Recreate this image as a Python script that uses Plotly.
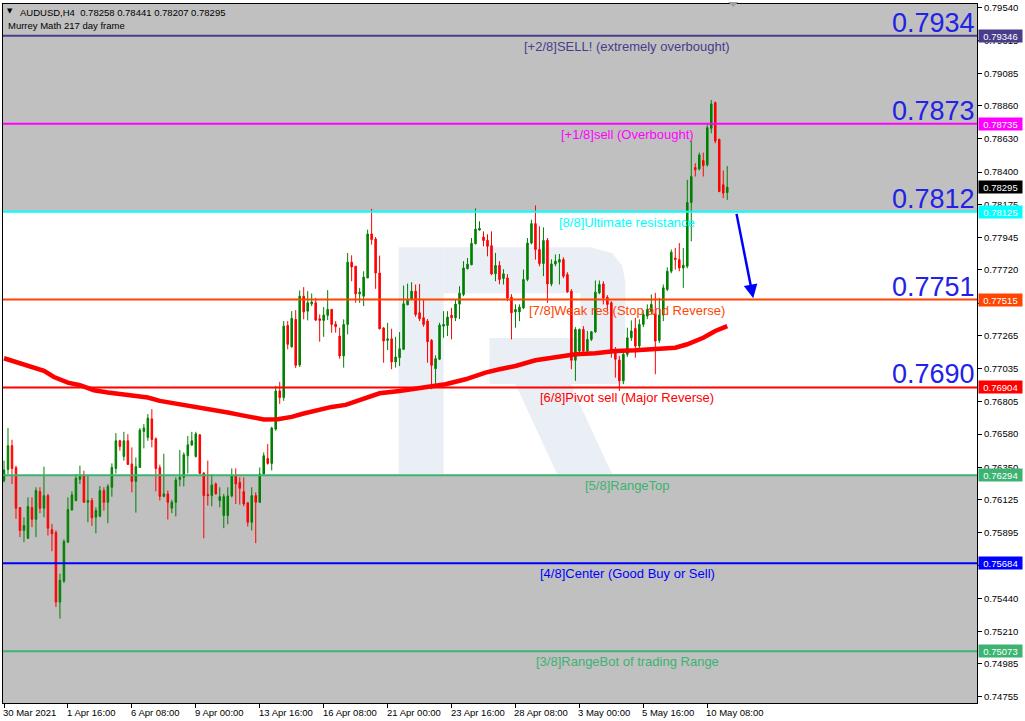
import plotly.graph_objects as go

# ---------------- data ----------------
opens = [0.76257,0.76335,0.76500,0.76347,0.76070,0.75911,0.75857,0.76070,0.75989,0.76181,
0.76066,0.76153,0.75916,0.75897,0.75414,0.75560,0.75830,0.76054,0.76119,0.76266,
0.76292,0.76107,0.76119,0.76003,0.76010,0.76188,0.76107,0.76211,0.76342,0.76534,
0.76425,0.76534,0.76373,0.76252,0.76349,0.76599,0.76557,0.76686,0.76548,0.76347,
0.76148,0.76165,0.76066,0.76107,0.76266,0.76280,0.76430,0.76504,0.76425,0.76575,
0.76310,0.76160,0.76153,0.76234,0.76119,0.76015,0.76015,0.76151,0.76292,0.76245,
0.76181,0.76103,0.75968,0.76153,0.76107,0.76303,0.76411,0.76377,0.76615,0.76880,
0.76834,0.77335,0.77187,0.77377,0.77060,0.77538,0.77434,0.77485,0.77492,0.77381,
0.77370,0.77405,0.77446,0.77344,0.77261,0.77123,0.77342,0.77774,0.77746,0.77554,
0.77538,0.77665,0.77970,0.77935,0.77699,0.77317,0.77231,0.77242,0.77081,0.77111,
0.77169,0.77478,0.77515,0.77573,0.77423,0.77388,0.77365,0.77231,0.77035,0.77100,
0.77330,0.77335,0.77405,0.77388,0.77483,0.77550,0.77729,0.77756,0.77902,0.77997,
0.77949,0.77926,0.77889,0.77693,0.77751,0.77661,0.77665,0.77531,0.77429,0.77429,
0.77457,0.77654,0.77907,0.78042,0.77862,0.77765,0.77926,0.77623,0.77762,0.77774,
0.77792,0.77688,0.77573,0.77093,0.77157,0.77307,0.77157,0.77238,0.77291,0.77561,
0.77623,0.77531,0.77492,0.77157,0.77095,0.76950,0.77134,0.77249,0.77314,0.77192,
0.77342,0.77400,0.77434,0.77416,0.77231,0.77407,0.77585,0.77711,0.77803,0.77792,
0.77734,0.77746,0.78189,0.78431,0.78422,0.78480,0.78450,0.78704,0.78882,0.78627,
0.78312,0.78258]
highs = [0.76396,0.76622,0.76541,0.76361,0.76072,0.76003,0.76141,0.76141,0.76211,0.76211,
0.76354,0.76165,0.75957,0.75911,0.75611,0.75849,0.76141,0.76183,0.76303,0.76361,
0.76326,0.76292,0.76137,0.76072,0.76220,0.76211,0.76234,0.76377,0.76587,0.76541,
0.76596,0.76580,0.76488,0.76418,0.76622,0.76650,0.76719,0.76754,0.76557,0.76368,
0.76444,0.76188,0.76124,0.76280,0.76470,0.76453,0.76567,0.76596,0.76596,0.76580,
0.76315,0.76396,0.76303,0.76245,0.76211,0.76165,0.76211,0.76342,0.76342,0.76280,
0.76280,0.76107,0.76211,0.76176,0.76349,0.76453,0.76511,0.76631,0.76915,0.76943,
0.77365,0.77365,0.77434,0.77441,0.77578,0.77601,0.77573,0.77557,0.77526,0.77411,
0.77462,0.77580,0.77450,0.77365,0.77319,0.77377,0.77838,0.77822,0.77746,0.77596,
0.77711,0.78000,0.78145,0.77949,0.77820,0.77323,0.77353,0.77312,0.77256,0.77289,
0.77612,0.77626,0.77635,0.77619,0.77623,0.77519,0.77379,0.77240,0.77127,0.77353,
0.77434,0.77434,0.77457,0.77517,0.77607,0.77781,0.77803,0.77942,0.78148,0.78058,
0.77988,0.77968,0.77988,0.77838,0.77781,0.77725,0.77691,0.77552,0.77481,0.77481,
0.77723,0.77942,0.78069,0.78168,0.78023,0.78016,0.77942,0.77794,0.77827,0.77831,
0.77808,0.77704,0.77587,0.77323,0.77314,0.77330,0.77296,0.77296,0.77647,0.77647,
0.77642,0.77545,0.77504,0.77185,0.77123,0.77157,0.77319,0.77370,0.77388,0.77377,
0.77441,0.77481,0.77550,0.77561,0.77526,0.77619,0.77739,0.77862,0.77873,0.77907,
0.77873,0.78346,0.78616,0.78461,0.78535,0.78535,0.78727,0.78900,0.78889,0.78632,
0.78411,0.78441]
lows = [0.76245,0.76303,0.76234,0.75992,0.75865,0.75830,0.75853,0.75934,0.75865,0.76031,
0.76003,0.75876,0.75767,0.75380,0.75299,0.75546,0.75826,0.76049,0.76114,0.76234,
0.76103,0.75968,0.75943,0.75892,0.76003,0.76049,0.75961,0.76146,0.76307,0.76465,
0.76396,0.76366,0.76176,0.76035,0.76345,0.76481,0.76534,0.76488,0.76183,0.76119,
0.76141,0.75987,0.76031,0.76008,0.76217,0.76217,0.76307,0.76500,0.76418,0.76303,
0.75857,0.76084,0.76079,0.76160,0.76072,0.75927,0.75954,0.76141,0.76095,0.76091,
0.76079,0.75938,0.75911,0.75823,0.76103,0.76296,0.76368,0.76328,0.76603,0.76790,
0.76811,0.77169,0.77180,0.77040,0.77046,0.77377,0.77370,0.77469,0.77365,0.77222,
0.77256,0.77372,0.77284,0.77284,0.77104,0.77042,0.77273,0.77642,0.77492,0.77492,
0.77469,0.77663,0.77896,0.77589,0.77307,0.77076,0.77164,0.77031,0.77042,0.77053,
0.77164,0.77476,0.77510,0.77395,0.77365,0.77326,0.77076,0.76892,0.76927,0.77095,
0.77249,0.77261,0.77238,0.77365,0.77379,0.77538,0.77725,0.77753,0.77898,0.77993,
0.77884,0.77815,0.77684,0.77642,0.77621,0.77619,0.77504,0.77238,0.77319,0.77365,
0.77448,0.77642,0.77898,0.77792,0.77746,0.77677,0.77492,0.77607,0.77746,0.77619,
0.77663,0.77561,0.77031,0.76950,0.77137,0.77134,0.77143,0.77227,0.77282,0.77552,
0.77481,0.77434,0.77111,0.76972,0.76880,0.76927,0.77116,0.77227,0.77111,0.77178,
0.77323,0.77379,0.77414,0.76996,0.77213,0.77365,0.77573,0.77697,0.77723,0.77711,
0.77596,0.77732,0.77919,0.78369,0.78411,0.78369,0.78438,0.78669,0.78600,0.78260,
0.78219,0.78207]
closes = [0.76331,0.76500,0.76342,0.76066,0.75911,0.75945,0.76077,0.75989,0.76188,0.76066,
0.76153,0.75927,0.75888,0.75414,0.75565,0.75835,0.76056,0.76158,0.76273,0.76285,
0.76107,0.76119,0.75999,0.76049,0.76188,0.76107,0.76217,0.76349,0.76534,0.76495,
0.76534,0.76370,0.76252,0.76354,0.76608,0.76622,0.76691,0.76543,0.76342,0.76148,
0.76165,0.76107,0.76107,0.76262,0.76280,0.76437,0.76506,0.76534,0.76582,0.76307,
0.76153,0.76153,0.76227,0.76165,0.76146,0.76146,0.76151,0.76292,0.76234,0.76204,
0.76095,0.75968,0.76153,0.76107,0.76303,0.76430,0.76377,0.76622,0.76880,0.76834,
0.77330,0.77204,0.77384,0.77058,0.77538,0.77429,0.77492,0.77497,0.77372,0.77370,
0.77407,0.77446,0.77342,0.77326,0.77123,0.77342,0.77774,0.77741,0.77554,0.77566,
0.77670,0.77970,0.77931,0.77699,0.77312,0.77227,0.77242,0.77081,0.77116,0.77173,
0.77485,0.77508,0.77573,0.77411,0.77381,0.77342,0.77222,0.77058,0.77104,0.77337,
0.77342,0.77393,0.77388,0.77483,0.77559,0.77734,0.77760,0.77905,0.78004,0.78009,
0.77924,0.77884,0.77693,0.77751,0.77654,0.77693,0.77526,0.77423,0.77446,0.77462,
0.77654,0.77907,0.78042,0.77862,0.77765,0.77924,0.77623,0.77762,0.77781,0.77792,
0.77677,0.77568,0.77093,0.77307,0.77307,0.77157,0.77238,0.77291,0.77566,0.77619,
0.77526,0.77481,0.77157,0.77100,0.76950,0.77134,0.77249,0.77296,0.77192,0.77342,
0.77411,0.77446,0.77481,0.77227,0.77407,0.77596,0.77711,0.77843,0.77792,0.77734,
0.77753,0.78189,0.78369,0.78416,0.78519,0.78445,0.78708,0.78873,0.78616,0.78265,
0.78254,0.78295]
bars = list(range(len(closes)))

# moving average (read at selected bars)
ma_bars = [0,4,7.5,10,12.5,16,19,22.5,26,29,32.5,36,39,42.5,46,49,52.5,56,59,62,65,68.5,72,75,78.5,82,85.5,
           90.5,94,99,104,107,110.5,115.5,120.5,124,128,133,138,143,148,153,158,163,168,171,175,178,181]
ma_vals = [0.77107,0.77069,0.77042,0.77019,0.76977,0.76938,0.76920,0.76885,0.76869,0.76857,0.76846,0.76834,
           0.76811,0.76795,0.76783,0.76769,0.76747,0.76730,0.76714,0.76695,0.76682,0.76684,0.76700,0.76723,
           0.76747,0.76769,0.76783,0.76834,0.76864,0.76880,0.76903,0.76915,0.76927,0.76961,0.77007,0.77031,
           0.77053,0.77093,0.77111,0.77134,0.77141,0.77157,0.77162,0.77169,0.77180,0.77204,0.77249,0.77296,0.77330]

# Murrey math levels
level_vals = [0.79346, 0.78735, 0.78125, 0.77515, 0.76904, 0.76294, 0.75684, 0.75073]
level_names = ["[+2/8]SELL! (extremely overbought)", "[+1/8]sell (Overbought)",
               "[8/8]Ultimate resistance", "[7/8]Weak res (Stop and Reverse)",
               "[6/8]Pivot sell (Major Reverse)", "[5/8]RangeTop",
               "[4/8]Center (Good Buy or Sell)", "[3/8]RangeBot of trading Range"]
level_colors = ["#483D8B", "#FF00FF", "#00FFFF", "#FF4500", "#FF0000", "#3CB371", "#0000FF", "#3CB371"]
label_bar = 156

# big level captions (upper five levels)
big_vals = [0.79346, 0.78735, 0.78125, 0.77515, 0.76904]
big_text = ["0.7934", "0.7873", "0.7812", "0.7751", "0.7690"]

# price axis ticks
y_ticks = [0.79540, 0.79315, 0.79085, 0.78860, 0.78630, 0.78400, 0.78175, 0.77945, 0.77720, 0.77490,
           0.77265, 0.77035, 0.76805, 0.76580, 0.76350, 0.76125, 0.75895, 0.75670, 0.75440, 0.75210,
           0.74985, 0.74755]
# time axis labels
x_tick_bars = [0, 16, 32, 48, 64, 80, 96, 112, 128, 144, 160, 176]
x_tick_text = ["30 Mar 2021", "1 Apr 16:00", "6 Apr 08:00", "9 Apr 00:00", "13 Apr 16:00",
               "16 Apr 08:00", "21 Apr 00:00", "23 Apr 16:00", "28 Apr 08:00", "3 May 00:00",
               "5 May 16:00", "10 May 08:00"]

last_price = 0.78295
arrow_from = (183.25, 0.78120)
arrow_to = (187.5, 0.77524)

header1 = "AUDUSD,H4\u00a0\u00a00.78258 0.78441 0.78207 0.78295"
header2 = "Murrey Math 217 day frame"

# ---------------- figure ----------------
W, H = 1025, 721
ML, MR, MT, MB = 2, 48, 2, 18
PW, PH = W - ML - MR, H - MT - MB
Y_RANGE = [0.74713, 0.79567]
X_RANGE = [-0.25, -0.25 + PW / 4.0]


def pxp(x):
    return (x - ML) / PW


def pyp(y):
    return (H - MB - y) / PH


fig = go.Figure()

fig.add_trace(go.Candlestick(
    x=bars, open=opens, high=highs, low=lows, close=closes,
    increasing=dict(line=dict(color="#008000", width=1), fillcolor="#008000"),
    decreasing=dict(line=dict(color="#FF0000", width=1), fillcolor="#FF0000"),
    whiskerwidth=0, hoverinfo="skip", showlegend=False))

fig.add_trace(go.Scatter(x=ma_bars, y=ma_vals, mode="lines",
                         line=dict(color="#FF0000", width=4.5), hoverinfo="skip", showlegend=False))

shapes = []
# grey zones
shapes.append(dict(type="rect", xref="paper", yref="y", x0=0, x1=1, y0=level_vals[2], y1=0.81,
                   fillcolor="#C0C0C0", line=dict(width=0), layer="below"))
shapes.append(dict(type="rect", xref="paper", yref="y", x0=0, x1=1, y0=0.70, y1=level_vals[5],
                   fillcolor="#C0C0C0", line=dict(width=0), layer="below"))

# faint watermark logo
logo_col = "#EAEEF5"
shapes.append(dict(type="rect", xref="paper", yref="paper", x0=pxp(398), x1=pxp(443), y0=pyp(474), y1=pyp(246),
                   fillcolor=logo_col, line=dict(width=0), layer="below"))
pts = [(443, 246), (590, 246), (612, 252), (622, 265), (625, 281), (625, 383), (489, 383), (489, 337),
       (580, 337), (580, 292), (443, 292)]
path = "M " + " L ".join(f"{pxp(a):.5f},{pyp(b):.5f}" for a, b in pts) + " Z"
shapes.append(dict(type="path", xref="paper", yref="paper", path=path, fillcolor=logo_col,
                   line=dict(width=0), layer="below"))
pts = [(515, 383), (570, 383), (612, 474), (557, 474)]
path = "M " + " L ".join(f"{pxp(a):.5f},{pyp(b):.5f}" for a, b in pts) + " Z"
shapes.append(dict(type="path", xref="paper", yref="paper", path=path, fillcolor=logo_col,
                   line=dict(width=0), layer="below"))

# level lines
for v, c in zip(level_vals, level_colors):
    shapes.append(dict(type="line", xref="paper", yref="y", x0=0, x1=1, y0=v, y1=v,
                       line=dict(color=c, width=2), layer="above"))

# small shift marker at top
pts = [(728, 0), (738, 0), (733, 5)]
path = "M " + " L ".join(f"{pxp(a):.5f},{pyp(b):.5f}" for a, b in pts) + " Z"
shapes.append(dict(type="path", xref="paper", yref="paper", path=path, fillcolor="#A0A0A0",
                   line=dict(width=0), layer="above"))

annotations = []
for v, n, c in zip(level_vals, level_names, level_colors):
    annotations.append(dict(x=label_bar, y=v, xref="x", yref="y", text=n, showarrow=False,
                            xanchor="center", yanchor="top", yshift=-1,
                            font=dict(family="Liberation Sans, Arial", size=13, color=c)))

# big captions above the upper levels
for v, t in zip(big_vals, big_text):
    annotations.append(dict(x=1, y=v, xref="paper", yref="y", text=t, showarrow=False,
                            xanchor="right", yanchor="bottom", xshift=0, yshift=-4,
                            font=dict(family="Liberation Sans, Arial", size=27, color="#2222E6")))

# price boxes on axis
box_vals = level_vals + [last_price]
box_cols = level_colors + ["#000000"]
for v, c in zip(box_vals, box_cols):
    annotations.append(dict(x=1, y=v, xref="paper", yref="y", text=f"{v:.5f}", showarrow=False,
                            xanchor="left", yanchor="middle", xshift=1, bgcolor=c, width=43, height=12,
                            borderpad=0, align="center",
                            font=dict(family="Liberation Sans, Arial", size=9.5, color="#FFFFFF")))

# time labels
for b, t in zip(x_tick_bars, x_tick_text):
    annotations.append(dict(x=b, y=0, xref="x", yref="paper", text=t, showarrow=False,
                            xanchor="left", yanchor="top", xshift=-3, yshift=-2,
                            font=dict(family="Liberation Sans, Arial", size=9.5, color="#000000")))

# header
annotations.append(dict(x=0, y=1, xref="paper", yref="paper", text="\u25bc", showarrow=False,
                        xanchor="left", yanchor="top", xshift=2, yshift=-1,
                        font=dict(family="DejaVu Sans", size=7, color="#000000")))
annotations.append(dict(x=0, y=1, xref="paper", yref="paper", text=header1, showarrow=False,
                        xanchor="left", yanchor="top", xshift=15, yshift=-1,
                        font=dict(family="Liberation Sans, Arial", size=9.5, color="#000000")))
annotations.append(dict(x=0, y=1, xref="paper", yref="paper", text=header2, showarrow=False,
                        xanchor="left", yanchor="top", xshift=3, yshift=-14,
                        font=dict(family="Liberation Sans, Arial", size=9.5, color="#000000")))

# forecast arrow
annotations.append(dict(x=arrow_to[0], y=arrow_to[1], ax=arrow_from[0], ay=arrow_from[1],
                        xref="x", yref="y", axref="x", ayref="y", text="", showarrow=True,
                        arrowhead=2, arrowsize=1.1, arrowwidth=2.5, arrowcolor="#0000FF"))

fig.update_layout(
    width=W, height=H, margin=dict(l=ML, r=MR, t=MT, b=MB),
    paper_bgcolor="#FFFFFF", plot_bgcolor="#FFFFFF", boxgap=0.45,
    shapes=shapes, annotations=annotations, showlegend=False,
    xaxis=dict(range=X_RANGE, rangeslider=dict(visible=False), showgrid=False, zeroline=False,
               tickvals=x_tick_bars, ticktext=[""] * len(x_tick_bars), ticks="outside", ticklen=4,
               tickcolor="#000000", showline=True, linecolor="#000000", linewidth=1, mirror=True),
    yaxis=dict(range=Y_RANGE, side="right", showgrid=False, zeroline=False,
               tickvals=y_ticks, ticktext=[f"{v:.5f}" for v in y_ticks], ticks="outside", ticklen=4,
               tickcolor="#000000", showline=True, linecolor="#000000", linewidth=1, mirror=True,
               tickfont=dict(family="Liberation Sans, Arial", size=9.5, color="#000000")),
)

fig.write_html("out.html", config={"displayModeBar": False},
               post_script="document.body.style.margin='0';document.body.style.padding='0';"
                           "document.documentElement.style.overflow='hidden';")
